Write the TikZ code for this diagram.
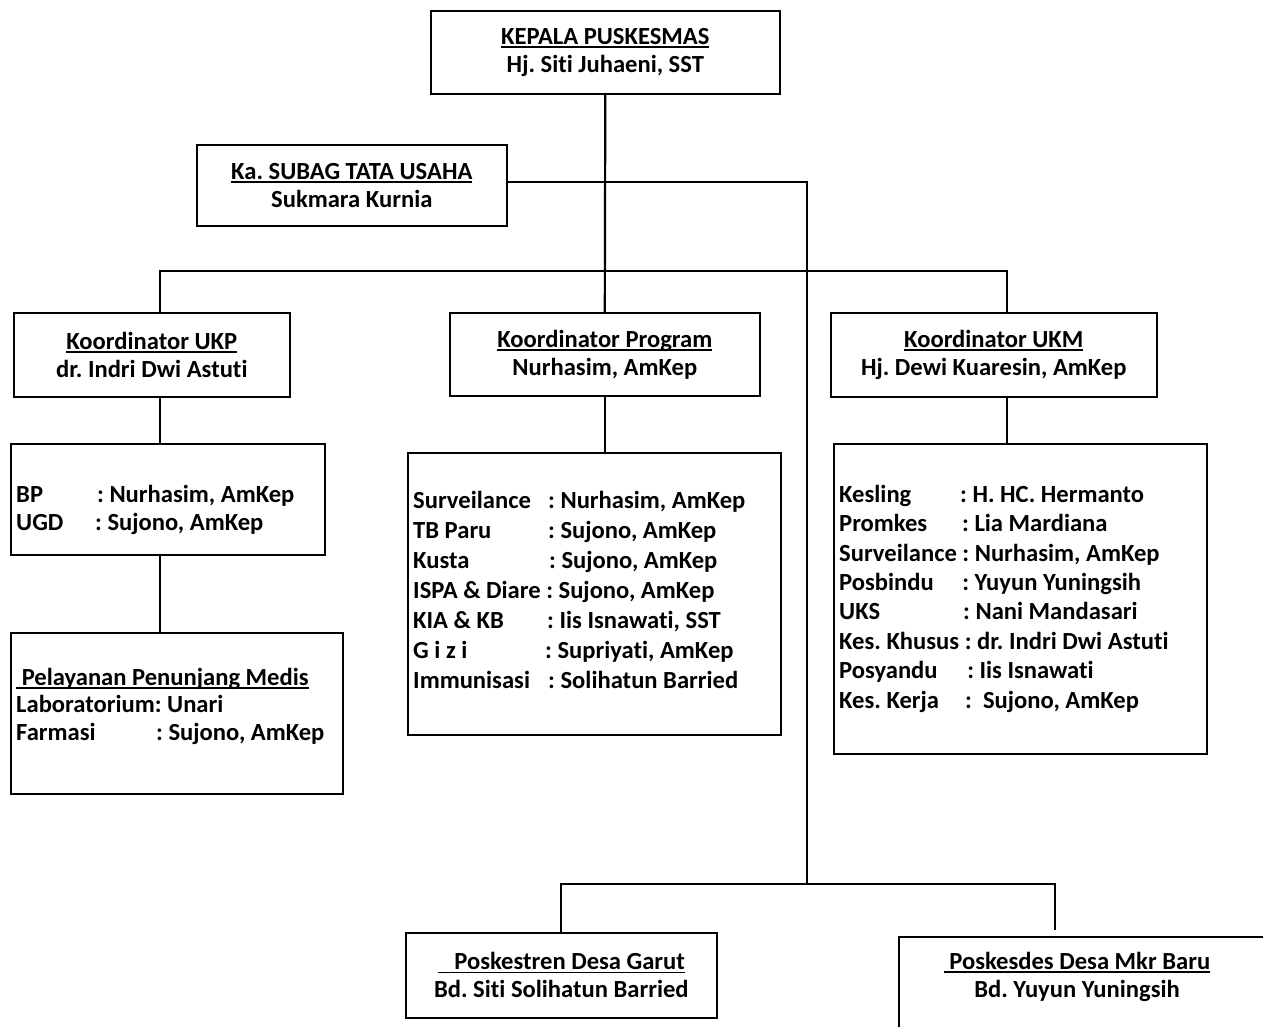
\documentclass[tikz,border=0pt]{standalone}
\usepackage{fontspec}
\setmainfont{Carlito}[Ligatures=NoCommon]
\usetikzlibrary{calc}
\frenchspacing
\newcommand\ulx[1]{\setbox0\hbox{#1}\rlap{\rule[-3.5pt]{\wd0}{1.8pt}}\box0}
\newcommand\lb[2]{\makebox[#1][l]{#2}}
\begin{document}
\begin{tikzpicture}[x=1pt,y=-1pt,
  every node/.style={font=\fontsize{24.6}{28}\selectfont\bfseries},
  box/.style={draw, line width=1.6pt, inner sep=0pt, anchor=north west, align=center},
  txt/.style={anchor=base west, inner sep=0pt, align=left},
  conn/.style={line width=2.2pt}]
\useasboundingbox (0,0) rectangle (1263,1026);
% title boxes
\node[box, minimum width=349pt, minimum height=83pt] (kepala) at (430,10) {\ulx{KEPALA PUSKESMAS}\\Hj. Siti Juhaeni, SST};
\node[box, minimum width=310pt, minimum height=81pt] (subag) at (196,144) {\ulx{Ka. SUBAG TATA USAHA}\\Sukmara Kurnia};
\node[box, minimum width=276pt, minimum height=84pt] (ukp) at (13,312) {\ulx{Koordinator UKP}\\dr. Indri Dwi Astuti};
\node[box, minimum width=310pt, minimum height=83pt] (prog) at (449,312) {\ulx{Koordinator Program}\\Nurhasim, AmKep};
\node[box, minimum width=326pt, minimum height=84pt] (ukm) at (830,312) {\ulx{Koordinator UKM}\\Hj. Dewi Kuaresin, AmKep};
% list boxes
\node[box, minimum width=314pt, minimum height=111pt] (bp) at (10,443) {};
\node[txt, font=\fontsize{24.6}{28}\selectfont\bfseries] (bpt) at (16,530) {\lb{81pt}{BP}: Nurhasim, AmKep\\\lb{79pt}{UGD}: Sujono, AmKep};
\node[box, minimum width=332pt, minimum height=161pt] (pen) at (10,632) {};
\node[txt, font=\fontsize{24.6}{27.5}\selectfont\bfseries] (pent) at (16,740) {\ulx{ Pelayanan Penunjang Medis}\\Laboratorium: Unari\\\lb{140pt}{Farmasi}: Sujono, AmKep};
\node[box, minimum width=373pt, minimum height=282pt] (plist) at (407,452) {};
\node[txt, font=\fontsize{24.6}{30}\selectfont\bfseries] (plistt) at (413,688) {\lb{135pt}{Surveilance}: Nurhasim, AmKep\\\lb{135pt}{TB Paru}: Sujono, AmKep\\\lb{136pt}{Kusta}: Sujono, AmKep\\ISPA \& Diare : Sujono, AmKep\\\lb{134pt}{KIA \& KB}: Iis Isnawati, SST\\\lb{132pt}{G i z i}: Supriyati, AmKep\\\lb{135pt}{Immunisasi}: Solihatun Barried};
\node[box, minimum width=373pt, minimum height=310pt] (mlist) at (833,443) {};
\node[txt, font=\fontsize{24.6}{29.4}\selectfont\bfseries] (mlistt) at (839,708) {\lb{121pt}{Kesling}: H. HC. Hermanto\\\lb{123pt}{Promkes}: Lia Mardiana\\Surveilance : Nurhasim, AmKep\\\lb{123pt}{Posbindu}: Yuyun Yuningsih\\\lb{124pt}{UKS}: Nani Mandasari\\Kes. Khusus : dr. Indri Dwi Astuti\\\lb{128pt}{Posyandu}: Iis Isnawati\\\lb{126pt}{Kes. Kerja}:\ \ Sujono, AmKep};
% bottom boxes
\node[box, minimum width=311pt, minimum height=85pt] (pos1) at (405,932) {\ulx{\ \ \ Poskestren Desa Garut}\\Bd. Siti Solihatun Barried};
\node[box, minimum width=400pt, minimum height=120pt] (pos2) at (898,936) {};
\node[anchor=base, inner sep=0pt, align=center] (pos2t) at (1077,997) {\ulx{ Poskesdes Desa Mkr Baru}\\Bd. Yuyun Yuningsih};
% connectors
\coordinate (jb) at (807,884);
\coordinate (ukpx) at ($(ukp.north west)+(147,0)$);
\coordinate (ukmx) at ($(ukm.north west)+(177,0)$);
\draw[conn] (kepala.south) -- (prog.north);
\draw[conn] (ukpx) -- ++(0,-41) -| (ukmx);
\draw[conn] (subag.east |- 0,182) -| (jb);
\draw[conn] (ukp.south -| ukpx) -- (bp.north -| ukpx);
\draw[conn] (bp.south -| ukpx) -- (pen.north -| ukpx);
\draw[conn] (prog.south) -- (plist.north -| prog.south);
\draw[conn] (ukm.south -| ukmx) -- (mlist.north -| ukmx);
\draw[conn] (pos1.north) -- (pos1.north |- jb) -| ($(pos2.north west)+(157,-6)$);
\end{tikzpicture}
\end{document}
